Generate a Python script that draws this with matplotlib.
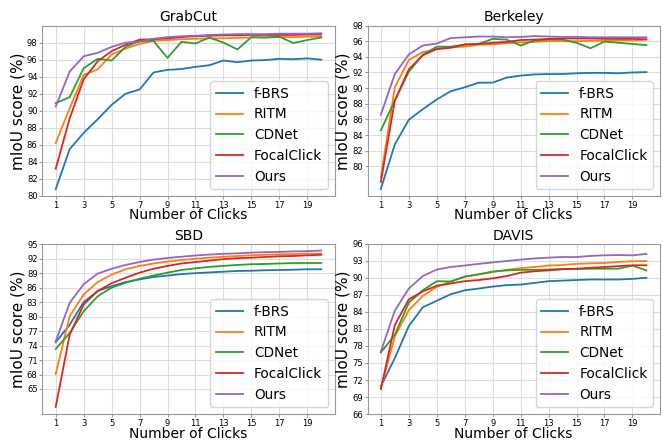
import matplotlib
matplotlib.use('Agg')
import matplotlib.pyplot as plt

clicks = list(range(1, 21))
methods = ['f-BRS', 'RITM', 'CDNet', 'FocalClick', 'Ours']
colors = ['#1f77b4', '#ff7f0e', '#2ca02c', '#d62728', '#9467bd']

# GrabCut
grabcut_fbrs = [80.8, 85.5, 87.4, 89.0, 90.7, 92.0, 92.5, 94.5, 94.8, 94.9,
                95.15, 95.35, 95.9, 95.7, 95.9, 95.95, 96.1, 96.05, 96.15, 96.0]
grabcut_ritm = [86.2, 90.3, 94.2, 94.85, 96.6, 97.3, 97.85, 98.2, 98.3, 98.4,
                98.45, 98.5, 98.5, 98.55, 98.6, 98.6, 98.65, 98.65, 98.7, 98.7]
grabcut_cdnet = [90.9, 91.6, 95.0, 96.1, 95.9, 97.5, 98.2, 98.2, 96.2, 98.1,
                 97.9, 98.6, 98.0, 97.2, 98.65, 98.6, 98.7, 97.95, 98.3, 98.6]
grabcut_focal = [83.2, 89.1, 93.7, 95.8, 97.0, 97.75, 98.35, 98.4, 98.5, 98.65,
                 98.75, 98.8, 98.85, 98.85, 98.9, 98.9, 98.9, 98.9, 98.95, 98.95]
grabcut_ours = [90.5, 94.6, 96.4, 96.8, 97.5, 98.0, 98.1, 98.45, 98.65, 98.75,
                98.8, 98.9, 98.95, 99.0, 99.0, 99.0, 99.05, 99.05, 99.05, 99.1]

# Berkeley
berkeley_fbrs = [77.1, 82.8, 85.95, 87.3, 88.55, 89.6, 90.1, 90.7, 90.7, 91.35,
                 91.6, 91.75, 91.8, 91.8, 91.9, 91.95, 91.95, 91.9, 92.0, 92.05]
berkeley_ritm = [78.6, 90.1, 93.6, 94.6, 95.0, 95.25, 95.3, 95.55, 95.6, 95.75,
                 95.85, 95.9, 96.0, 96.0, 96.0, 96.05, 96.05, 96.1, 96.1, 96.2]
berkeley_cdnet = [84.6, 88.4, 92.1, 94.25, 95.3, 95.3, 95.55, 95.65, 96.3, 96.2,
                  95.45, 96.1, 96.2, 96.2, 95.8, 95.1, 95.95, 95.8, 95.65, 95.5]
berkeley_focal = [78.0, 88.4, 92.4, 94.2, 95.0, 95.15, 95.6, 95.65, 95.8, 95.9,
                  96.15, 96.2, 96.3, 96.35, 96.35, 96.35, 96.3, 96.3, 96.3, 96.25]
berkeley_ours = [86.6, 91.8, 94.3, 95.45, 95.7, 96.4, 96.5, 96.6, 96.6, 96.5,
                 96.55, 96.65, 96.6, 96.55, 96.55, 96.5, 96.5, 96.5, 96.5, 96.5]

# SBD
sbd_fbrs = [74.7, 78.3, 83.0, 85.3, 86.3, 87.15, 87.7, 88.2, 88.5, 88.8,
            89.0, 89.15, 89.3, 89.45, 89.5, 89.6, 89.65, 89.7, 89.8, 89.8]
sbd_ritm = [68.1, 80.1, 84.6, 87.15, 88.7, 89.8, 90.5, 91.0, 91.4, 91.7,
            92.0, 92.2, 92.4, 92.55, 92.7, 92.8, 92.9, 92.95, 93.05, 93.05]
sbd_cdnet = [73.3, 76.6, 81.1, 84.2, 86.0, 87.0, 87.85, 88.5, 89.1, 89.65,
             90.0, 90.3, 90.5, 90.7, 90.85, 90.9, 91.0, 91.1, 91.1, 91.1]
sbd_focal = [61.3, 76.25, 82.5, 85.3, 86.9, 88.05, 89.1, 89.9, 90.5, 91.0,
             91.3, 91.6, 91.9, 92.1, 92.2, 92.35, 92.5, 92.55, 92.7, 92.8]
sbd_ours = [74.9, 82.85, 86.7, 88.9, 89.9, 90.7, 91.3, 91.8, 92.15, 92.4,
            92.65, 92.85, 93.0, 93.1, 93.25, 93.35, 93.4, 93.5, 93.55, 93.7]

# DAVIS
davis_fbrs = [70.9, 75.85, 81.5, 84.8, 85.95, 87.1, 87.8, 88.1, 88.45, 88.7,
              88.8, 89.1, 89.4, 89.5, 89.6, 89.7, 89.7, 89.7, 89.8, 90.0]
davis_ritm = [70.6, 79.65, 84.3, 86.8, 88.4, 89.3, 90.2, 90.6, 91.0, 91.4,
              91.7, 91.9, 92.15, 92.25, 92.45, 92.55, 92.6, 92.8, 92.9, 92.95]
davis_cdnet = [76.85, 79.95, 85.6, 87.8, 89.4, 89.35, 90.2, 90.6, 91.1, 91.3,
               91.4, 91.4, 91.45, 91.55, 91.55, 91.6, 91.6, 91.6, 92.15, 91.3]
davis_focal = [70.4, 81.7, 86.2, 87.6, 88.6, 89.0, 89.4, 89.6, 89.9, 90.3,
               90.9, 91.15, 91.3, 91.5, 91.6, 91.75, 91.9, 92.05, 92.2, 92.2]
davis_ours = [77.0, 84.2, 88.1, 90.3, 91.45, 91.9, 92.15, 92.45, 92.7, 92.95,
              93.2, 93.4, 93.55, 93.65, 93.65, 93.85, 93.95, 94.0, 93.95, 94.2]

panels = [
    ('GrabCut', [grabcut_fbrs, grabcut_ritm, grabcut_cdnet, grabcut_focal, grabcut_ours],
     list(range(80, 100, 2)), (80, 100)),
    ('Berkeley', [berkeley_fbrs, berkeley_ritm, berkeley_cdnet, berkeley_focal, berkeley_ours],
     list(range(80, 100, 2)), (76.2, 98)),
    ('SBD', [sbd_fbrs, sbd_ritm, sbd_cdnet, sbd_focal, sbd_ours],
     list(range(65, 96, 3)), (59.8, 95.1)),
    ('DAVIS', [davis_fbrs, davis_ritm, davis_cdnet, davis_focal, davis_ours],
     list(range(66, 97, 3)), (66, 96)),
]

fig, axes = plt.subplots(2, 2, figsize=(6.63, 4.41), dpi=100)
plt.subplots_adjust(left=0.064, right=0.995, bottom=0.061, top=0.942,
                    wspace=0.113, hspace=0.28)

for ax, (name, series, yt, yl) in zip(axes.flat, panels):
    for vals, lab, c in zip(series, methods, colors):
        ax.plot(clicks, vals, color=c, label=lab, linewidth=1.3)
    ax.set_title(name, fontsize=10, pad=3)
    ax.set_xticks(list(range(1, 21, 2)))
    ax.set_yticks(yt)
    ax.set_ylim(yl)
    ax.grid(True, color='#dddddd', linewidth=0.8)
    ax.set_axisbelow(True)
    for sp in ax.spines.values():
        sp.set_color('#999999')
    ax.tick_params(labelsize=6, length=2, pad=1.5, color='#999999')
    ax.set_xlabel('Number of Clicks', fontsize=10, labelpad=-1)
    ax.set_ylabel('mIoU score (%)', fontsize=11, labelpad=1)
    ax.legend(loc='lower right', fontsize=9.8, handlelength=2.0, framealpha=0.8)

plt.savefig('out.png', dpi=100)
